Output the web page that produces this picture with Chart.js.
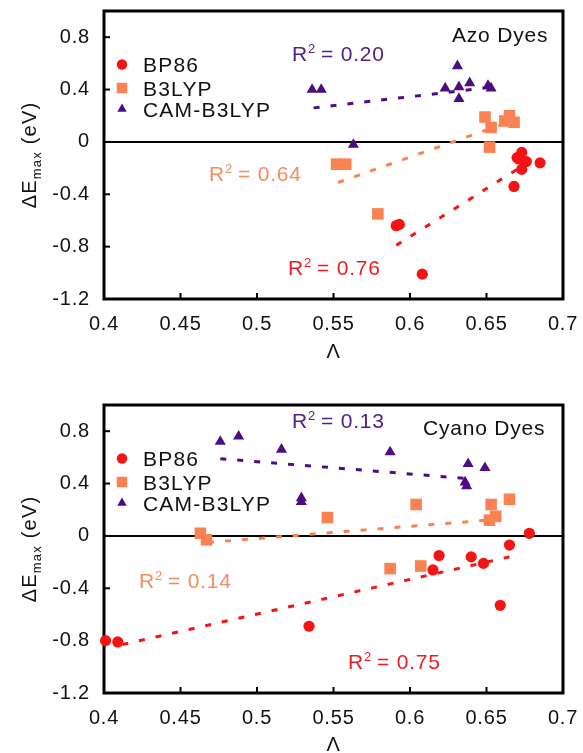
<!DOCTYPE html>
<html>
<head>
<meta charset="utf-8">
<script src="https://cdn.jsdelivr.net/npm/chart.js@4/dist/chart.umd.min.js"></script>
<style>
  html, body { margin: 0; padding: 0; background: #fff; overflow: hidden; }
  body { width: 583px; height: 753px; position: relative; }
  canvas { position: absolute; left: 0; }
  #azo { top: 0; }
  #cyano { top: 375px; }
</style>
</head>
<body>
<canvas id="azo" width="583" height="380"></canvas>
<canvas id="cyano" width="583" height="390"></canvas>
<script>
const FONT = '"Liberation Sans", Arial, Helvetica, sans-serif';
const RED = '#f41414', ORANGE = '#fa8252', PURPLE = '#4b0c84';
const RED_TXT = '#ec1c24', ORANGE_TXT = '#f58c60', PURPLE_TXT = '#512088';

const xTicks = [0.4, 0.45, 0.5, 0.55, 0.6, 0.65, 0.7];
const yTicks = [-1.2, -0.8, -0.4, 0, 0.4, 0.8];
const methods = ['BP86', 'B3LYP', 'CAM-B3LYP'];

// Azo dyes: Λ vs ΔEmax per functional
const azoBP86X = [0.591, 0.593, 0.608, 0.668, 0.685, 0.673, 0.670, 0.671, 0.676, 0.673];
const azoBP86Y = [-0.64, -0.63, -1.01, -0.34, -0.16, -0.08, -0.12, -0.13, -0.15, -0.21];
const azoB3LYPX = [0.552, 0.558, 0.579, 0.652, 0.649, 0.653, 0.662, 0.665, 0.668];
const azoB3LYPY = [-0.17, -0.17, -0.55, -0.04, 0.19, 0.11, 0.16, 0.20, 0.15];
const azoCAMX = [0.536, 0.542, 0.563, 0.623, 0.631, 0.632, 0.632, 0.639, 0.651, 0.653];
const azoCAMY = [0.40, 0.40, -0.02, 0.41, 0.58, 0.42, 0.33, 0.45, 0.43, 0.41];
// linear fits (end points)
const azoFitBP86X = [0.591, 0.670], azoFitBP86Y = [-0.79, -0.21];
const azoFitB3LYPX = [0.553, 0.662], azoFitB3LYPY = [-0.31, 0.14];
const azoFitCAMX = [0.537, 0.655], azoFitCAMY = [0.26, 0.42];
const azoR2 = ['0.76', '0.64', '0.20'];

// Cyano dyes
const cyBP86X = [0.401, 0.409, 0.534, 0.615, 0.619, 0.640, 0.648, 0.659, 0.665, 0.678];
const cyBP86Y = [-0.80, -0.81, -0.69, -0.26, -0.15, -0.16, -0.21, -0.53, -0.07, 0.02];
const cyB3LYPX = [0.463, 0.467, 0.546, 0.587, 0.607, 0.604, 0.653, 0.656, 0.652, 0.665];
const cyB3LYPY = [0.02, -0.03, 0.14, -0.25, -0.23, 0.24, 0.24, 0.15, 0.12, 0.28];
const cyCAMX = [0.476, 0.488, 0.516, 0.529, 0.529, 0.587, 0.636, 0.637, 0.638, 0.649];
const cyCAMY = [0.72, 0.76, 0.66, 0.29, 0.26, 0.64, 0.41, 0.38, 0.55, 0.52];
const cyFitBP86X = [0.412, 0.665], cyFitBP86Y = [-0.83, -0.16];
const cyFitB3LYPX = [0.468, 0.650], cyFitB3LYPY = [-0.05, 0.12];
const cyFitCAMX = [0.476, 0.635], cyFitCAMY = [0.59, 0.44];
const cyR2 = ['0.75', '0.14', '0.13'];

const colors = [RED, ORANGE, PURPLE];
const textColors = [RED_TXT, ORANGE_TXT, PURPLE_TXT];
const styles = [
  { pointStyle: 'circle', radius: 5.6 },
  { pointStyle: 'rect', radius: 8.2 },
  { pointStyle: 'triangle', radius: 6.4 },
];

function pts(xs, ys) { return xs.map((x, i) => ({ x, y: ys[i] })); }

// keep the plot box exactly where the layout puts it
function noEdgePadding(s) {
  s.paddingTop = 0; s.paddingBottom = 0; s.paddingLeft = 0; s.paddingRight = 0;
}

// R² label with a raised "2"
function drawR2(ctx, x, y, value, color) {
  ctx.fillStyle = color;
  ctx.textAlign = 'left';
  ctx.textBaseline = 'alphabetic';
  ctx.font = `21px ${FONT}`;
  ctx.fillText('R', x, y);
  let w = ctx.measureText('R').width;
  ctx.font = `13px ${FONT}`;
  ctx.fillText('2', x + w, y - 8);
  w += ctx.measureText('2').width + 2;
  ctx.font = `21px ${FONT}`;
  ctx.fillText('= ' + value, x + w + 3, y);
}

const decor = {
  id: 'decor',
  beforeDraw(chart) { chart.ctx.letterSpacing = '0.8px'; },
  beforeDatasetsDraw(chart) {
    const { ctx, chartArea: a, scales } = chart;
    ctx.save();
    ctx.strokeStyle = '#000';
    ctx.lineWidth = 2;
    // inward ticks on the bottom and left edges
    xTicks.slice(1, -1).forEach(v => {
      const px = scales.x.getPixelForValue(v);
      ctx.beginPath(); ctx.moveTo(px, a.bottom); ctx.lineTo(px, a.bottom - 6); ctx.stroke();
    });
    yTicks.slice(1).forEach(v => {
      const py = scales.y.getPixelForValue(v);
      ctx.beginPath(); ctx.moveTo(a.left, py); ctx.lineTo(a.left + 6, py); ctx.stroke();
    });
    ctx.lineWidth = 3;
    ctx.strokeRect(a.left, a.top, a.right - a.left, a.bottom - a.top);
    ctx.restore();
  },
  afterDatasetsDraw(chart, args, opts) {
    const { ctx, chartArea: a } = chart;
    ctx.save();

    // legend, top left inside the frame
    const rows = [53.5, 77, 98];
    methods.forEach((m, i) => {
      const y = a.top + rows[i];
      ctx.fillStyle = colors[i];
      Chart.helpers.drawPoint(ctx, {
        pointStyle: styles[i].pointStyle,
        radius: [5.2, 7.4, 5.4][i],
        rotation: 0, borderWidth: 0,
      }, 122, y);
      ctx.letterSpacing = '1.2px';
      ctx.fillStyle = '#111';
      ctx.font = `21px ${FONT}`;
      ctx.textAlign = 'left';
      ctx.textBaseline = 'alphabetic';
      ctx.fillText(m, 143, y + 7.5);
    });

    // panel name and fit quality
    ctx.letterSpacing = '0.8px';
    ctx.fillStyle = '#111';
    ctx.font = `21px ${FONT}`;
    ctx.fillText(opts.name, opts.namePos[0], opts.namePos[1]);
    opts.r2.forEach((v, i) => drawR2(ctx, opts.r2Pos[i][0], opts.r2Pos[i][1], v, textColors[i]));

    // y axis title: ΔEmax (eV)
    ctx.translate(0, (a.top + a.bottom) / 2);
    ctx.rotate(-Math.PI / 2);
    ctx.letterSpacing = '1.2px';
    ctx.fillStyle = '#111';
    ctx.font = `20px ${FONT}`;
    const p1 = 'ΔE', p3 = ' (eV)';
    const w1 = ctx.measureText(p1).width, w3 = ctx.measureText(p3).width;
    ctx.font = `13px ${FONT}`;
    const w2 = ctx.measureText('max').width;
    let x0 = -(w1 + w2 + w3) / 2;
    ctx.font = `20px ${FONT}`;
    ctx.fillText(p1, x0, 36);
    ctx.font = `13px ${FONT}`;
    ctx.fillText('max', x0 + w1, 41);
    ctx.font = `20px ${FONT}`;
    ctx.fillText(p3, x0 + w1 + w2, 36);
    ctx.restore();
  },
  afterDraw(chart) { chart.ctx.letterSpacing = '0px'; },
};

function makeChart(id, cfg) {
  const scatter = cfg.sets.map((s, i) => ({
    data: pts(s[0], s[1]),
    pointStyle: styles[i].pointStyle,
    pointRadius: styles[i].radius,
    pointHoverRadius: styles[i].radius,
    backgroundColor: colors[i],
    borderWidth: 0,
    clip: false,
    order: 1,
  }));
  const fits = cfg.fits.map((f, i) => ({
    data: pts(f[0], f[1]),
    showLine: true,
    pointRadius: 0,
    borderColor: colors[i],
    borderWidth: 3,
    borderDash: [6, 11],
    clip: false,
    order: 2,
  }));
  const tickFont = { size: 20, family: FONT };
  return new Chart(document.getElementById(id), {
    type: 'scatter',
    data: { datasets: [...scatter, ...fits] },
    options: {
      responsive: false,
      animation: false,
      layout: { padding: { top: cfg.padTop, right: 20, left: 0, bottom: 0 } },
      plugins: {
        legend: { display: false },
        tooltip: { enabled: false },
        decor: { name: cfg.name, namePos: cfg.namePos, r2: cfg.r2, r2Pos: cfg.r2Pos },
      },
      scales: {
        x: {
          type: 'linear', min: 0.4, max: 0.7,
          afterBuildTicks: s => { s.ticks = xTicks.map(v => ({ value: v })); },
          afterFit: s => { s.height = cfg.xAxisHeight; noEdgePadding(s); },
          grid: { display: false, drawTicks: false },
          border: { display: false },
          ticks: { padding: 13, color: '#111', font: tickFont, maxRotation: 0, autoSkip: false,
                   callback: v => String(+v.toFixed(2)) },
          title: { display: true, text: 'Λ', color: '#111', font: tickFont,
                   padding: { top: 0, bottom: cfg.lambdaPad } },
        },
        y: {
          type: 'linear', min: -1.2, max: 1.0,
          afterBuildTicks: s => { s.ticks = yTicks.map(v => ({ value: v })); },
          afterFit: s => { s.width = 104; noEdgePadding(s); },
          grid: { color: c => (c.tick && c.tick.value === 0 ? '#000' : 'rgba(0,0,0,0)'), lineWidth: 2, drawTicks: false },
          border: { display: false },
          ticks: { padding: 14, color: '#111', font: tickFont, autoSkip: false,
                   callback: v => String(+v.toFixed(1)) },
        },
      },
    },
    plugins: [decor],
  });
}

makeChart('azo', {
  sets: [[azoBP86X, azoBP86Y], [azoB3LYPX, azoB3LYPY], [azoCAMX, azoCAMY]],
  fits: [[azoFitBP86X, azoFitBP86Y], [azoFitB3LYPX, azoFitB3LYPY], [azoFitCAMX, azoFitCAMY]],
  name: 'Azo Dyes', namePos: [452, 42],
  r2: azoR2, r2Pos: [[288, 275], [209, 181], [292, 61]],
  padTop: 11, xAxisHeight: 81, lambdaPad: 16,
});

makeChart('cyano', {
  sets: [[cyBP86X, cyBP86Y], [cyB3LYPX, cyB3LYPY], [cyCAMX, cyCAMY]],
  fits: [[cyFitBP86X, cyFitBP86Y], [cyFitB3LYPX, cyFitB3LYPY], [cyFitCAMX, cyFitCAMY]],
  name: 'Cyano Dyes', namePos: [423, 60],
  r2: cyR2, r2Pos: [[348, 294], [139, 213], [292, 53]],
  padTop: 30, xAxisHeight: 72, lambdaPad: 8,
});
</script>
</body>
</html>
